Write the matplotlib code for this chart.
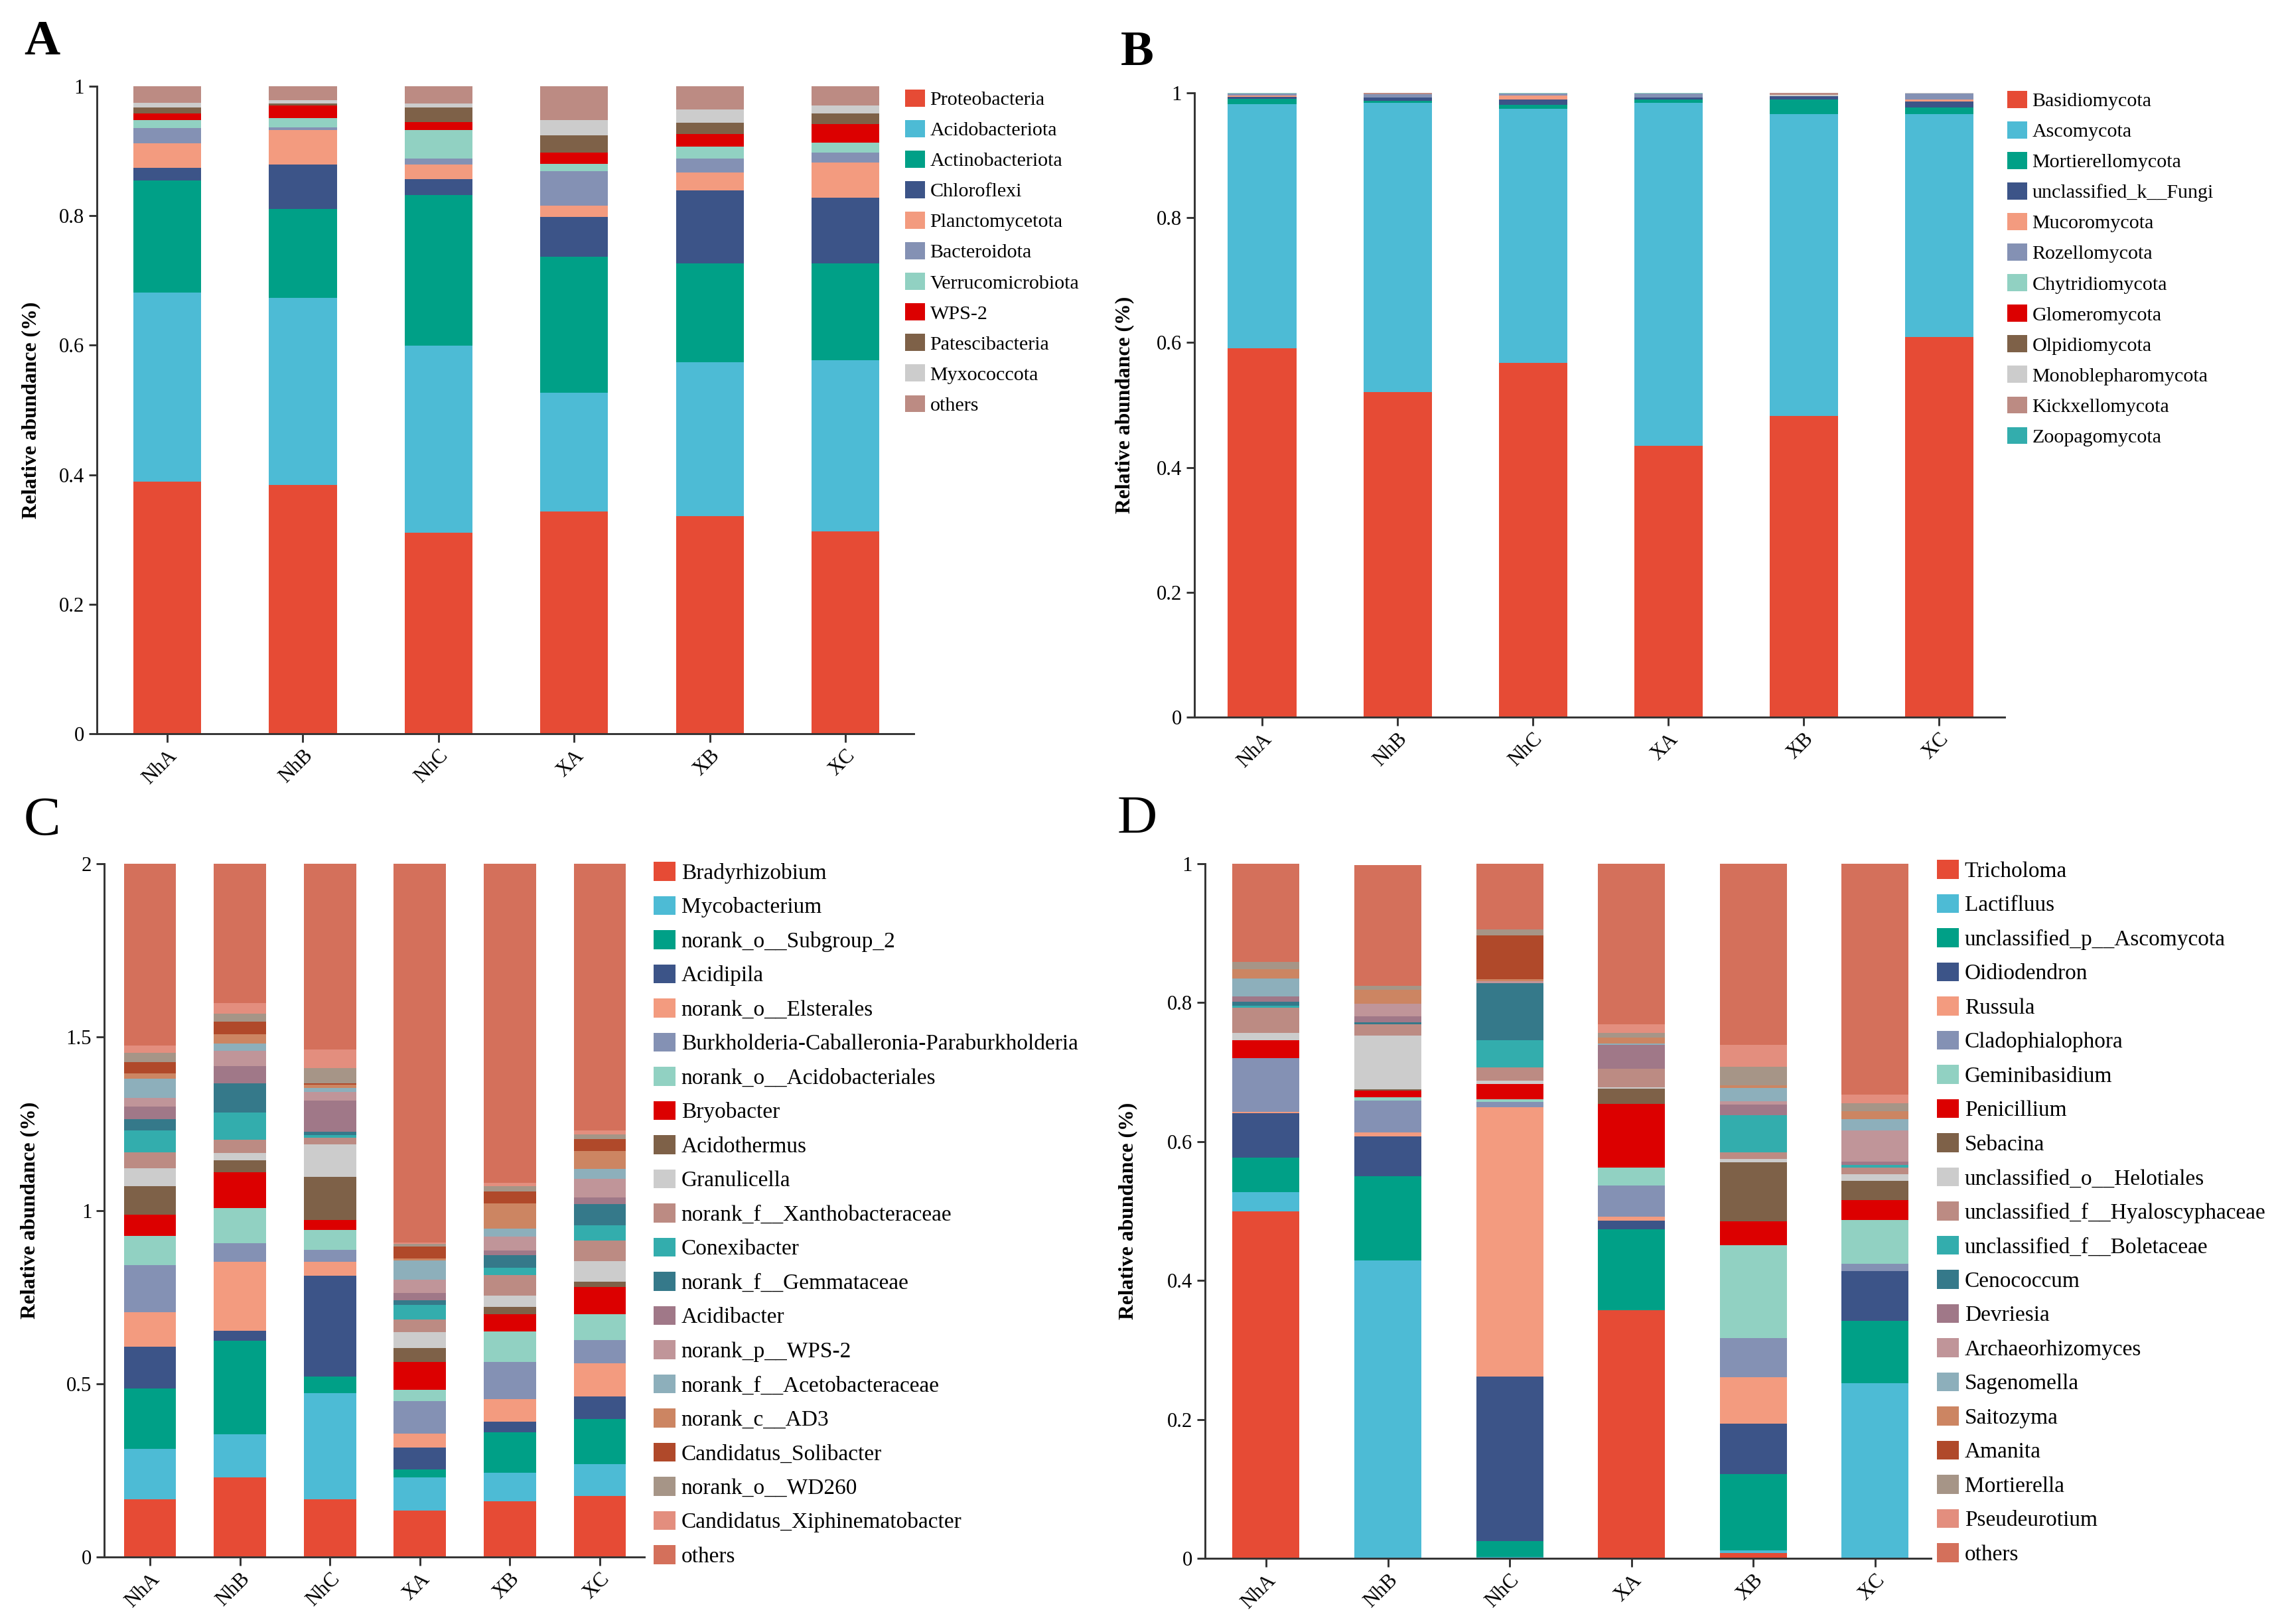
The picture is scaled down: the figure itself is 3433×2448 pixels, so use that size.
import numpy as np
import matplotlib.pyplot as plt
from matplotlib.patches import Patch

plt.rcParams['font.family'] = ['Liberation Serif', 'DejaVu Serif']

samples = ['NhA', 'NhB', 'NhC', 'XA', 'XB', 'XC']

palette = ['#E64B35', '#4DBBD5', '#00A087', '#3C5488', '#F39B7F', '#8491B4',
           '#91D1C2', '#DC0000', '#7E6148', '#CCCCCC', '#BC8B83', '#33ADAD',
           '#35798A', '#A07888', '#C09599', '#8DAFBB', '#CC8562', '#B0492A',
           '#A69587', '#E38E7E', '#D4705B']

# ---- A: bacterial phyla
bac_phyla = ['Proteobacteria', 'Acidobacteriota', 'Actinobacteriota', 'Chloroflexi',
             'Planctomycetota', 'Bacteroidota', 'Verrucomicrobiota', 'WPS-2',
             'Patescibacteria', 'Myxococcota', 'others']
a_NhA = [0.389, 0.292, 0.173, 0.020, 0.038, 0.023, 0.013, 0.010, 0.009, 0.007, 0.026]
a_NhB = [0.384, 0.289, 0.137, 0.069, 0.053, 0.004, 0.015, 0.019, 0.003, 0.005, 0.022]
a_NhC = [0.310, 0.289, 0.233, 0.025, 0.022, 0.009, 0.044, 0.013, 0.022, 0.006, 0.027]
a_XA = [0.343, 0.184, 0.210, 0.061, 0.018, 0.053, 0.011, 0.018, 0.026, 0.024, 0.052]
a_XB = [0.336, 0.238, 0.152, 0.113, 0.028, 0.021, 0.019, 0.019, 0.018, 0.020, 0.036]
a_XC = [0.313, 0.264, 0.149, 0.102, 0.054, 0.016, 0.015, 0.029, 0.016, 0.012, 0.030]

# ---- B: fungal phyla
fun_phyla = ['Basidiomycota', 'Ascomycota', 'Mortierellomycota', 'unclassified_k__Fungi',
             'Mucoromycota', 'Rozellomycota', 'Chytridiomycota', 'Glomeromycota',
             'Olpidiomycota', 'Monoblepharomycota', 'Kickxellomycota', 'Zoopagomycota']
b_NhA = [0.591, 0.391, 0.008, 0.0035, 0.0025, 0.003, 0.001, 0, 0, 0, 0, 0]
b_NhB = [0.521, 0.463, 0.003, 0.006, 0, 0.005, 0, 0, 0, 0, 0.002, 0]
b_NhC = [0.567, 0.4075, 0.006, 0.009, 0.006, 0.003, 0.0015, 0, 0, 0, 0, 0]
b_XA = [0.435, 0.549, 0.005, 0.0035, 0, 0.006, 0.0015, 0, 0, 0, 0, 0]
b_XB = [0.482, 0.484, 0.023, 0.006, 0, 0, 0, 0, 0, 0.002, 0.003, 0]
b_XC = [0.609, 0.357, 0.011, 0.009, 0.0035, 0.009, 0, 0, 0, 0.0015, 0, 0]

# ---- C: bacterial genera
bac_genera = ['Bradyrhizobium', 'Mycobacterium', 'norank_o__Subgroup_2', 'Acidipila',
              'norank_o__Elsterales', 'Burkholderia-Caballeronia-Paraburkholderia',
              'norank_o__Acidobacteriales', 'Bryobacter', 'Acidothermus', 'Granulicella',
              'norank_f__Xanthobacteraceae', 'Conexibacter', 'norank_f__Gemmataceae',
              'Acidibacter', 'norank_p__WPS-2', 'norank_f__Acetobacteraceae',
              'norank_c__AD3', 'Candidatus_Solibacter', 'norank_o__WD260',
              'Candidatus_Xiphinematobacter', 'others']
c_NhA = [0.167, 0.145, 0.175, 0.120, 0.100, 0.135, 0.085, 0.061, 0.082, 0.051, 0.046,
         0.064, 0.033, 0.036, 0.024, 0.055, 0.016, 0.032, 0.028, 0.021, 0.524]
c_NhB = [0.230, 0.124, 0.269, 0.030, 0.199, 0.053, 0.101, 0.104, 0.034, 0.021, 0.038,
         0.080, 0.084, 0.050, 0.043, 0.021, 0.027, 0.036, 0.024, 0.030, 0.402]
c_NhC = [0.167, 0.306, 0.047, 0.292, 0.040, 0.035, 0.057, 0.028, 0.124, 0.095, 0.019,
         0.008, 0.008, 0.090, 0.026, 0.012, 0.009, 0.004, 0.044, 0.053, 0.536]
c_XA = [0.134, 0.096, 0.022, 0.064, 0.040, 0.094, 0.033, 0.079, 0.041, 0.045, 0.038,
        0.042, 0.013, 0.020, 0.039, 0.055, 0.006, 0.034, 0.008, 0.004, 1.093]
c_XB = [0.160, 0.083, 0.117, 0.030, 0.065, 0.107, 0.089, 0.049, 0.022, 0.033, 0.058,
        0.021, 0.037, 0.014, 0.040, 0.022, 0.074, 0.033, 0.016, 0.010, 0.920]
c_XC = [0.176, 0.091, 0.132, 0.064, 0.096, 0.066, 0.075, 0.079, 0.016, 0.058, 0.060,
        0.044, 0.061, 0.020, 0.053, 0.028, 0.052, 0.034, 0.014, 0.012, 0.769]

# ---- D: fungal genera
fun_genera = ['Tricholoma', 'Lactifluus', 'unclassified_p__Ascomycota', 'Oidiodendron',
              'Russula', 'Cladophialophora', 'Geminibasidium', 'Penicillium', 'Sebacina',
              'unclassified_o__Helotiales', 'unclassified_f__Hyaloscyphaceae',
              'unclassified_f__Boletaceae', 'Cenococcum', 'Devriesia', 'Archaeorhizomyces',
              'Sagenomella', 'Saitozyma', 'Amanita', 'Mortierella', 'Pseudeurotium', 'others']
d_NhA = [0.500, 0.027, 0.050, 0.064, 0.002, 0.077, 0.0, 0.026, 0.0, 0.010, 0.037,
         0.003, 0.005, 0.008, 0.0, 0.026, 0.013, 0.0, 0.011, 0.0, 0.141]
d_NhB = [0.0, 0.429, 0.121, 0.057, 0.006, 0.046, 0.005, 0.009, 0.002, 0.078, 0.016,
         0.0, 0.003, 0.008, 0.018, 0.0, 0.021, 0.0, 0.005, 0.0, 0.174]
d_NhC = [0.0, 0.002, 0.023, 0.237, 0.387, 0.008, 0.004, 0.022, 0.0, 0.005, 0.019,
         0.039, 0.082, 0.0, 0.003, 0.0, 0.003, 0.063, 0.008, 0.0, 0.095]
d_XA = [0.357, 0.0, 0.117, 0.012, 0.006, 0.045, 0.026, 0.091, 0.022, 0.002, 0.027,
        0.0, 0.0, 0.034, 0.0, 0.002, 0.009, 0.0, 0.006, 0.013, 0.231]
d_XB = [0.008, 0.003, 0.110, 0.073, 0.067, 0.056, 0.134, 0.034, 0.085, 0.005, 0.010,
        0.053, 0.0, 0.015, 0.005, 0.019, 0.004, 0.0, 0.027, 0.031, 0.261]
d_XC = [0.0, 0.252, 0.090, 0.072, 0.0, 0.010, 0.063, 0.029, 0.027, 0.010, 0.010,
        0.003, 0.0, 0.005, 0.045, 0.016, 0.012, 0.0, 0.011, 0.013, 0.332]

W, H = 3433, 2448
fig = plt.figure(figsize=(W / 300, H / 300), dpi=300)


def box(l, r, t, b):
    return [l / W, 1 - b / H, (r - l) / W, (b - t) / H]


def panel(rect, taxa, cols, rows, width, xlim, ymax, yticks, ytl,
          leg_xy, leg_fs, ylab_x, letter, letter_xy, letter_fs, letter_w):
    ax = fig.add_axes(box(*rect))
    data = np.array(rows).T  # taxa x samples
    x = np.arange(len(samples))
    bottom = np.zeros(len(samples))
    for name, vals, c in zip(taxa, data, cols):
        ax.bar(x, vals, width, bottom=bottom, color=c, linewidth=0)
        bottom += vals
    ax.set_xlim(*xlim)
    ax.set_ylim(0, ymax)
    ax.set_yticks(yticks)
    ax.set_yticklabels(ytl)
    ax.set_xticks(x)
    ax.set_xticklabels(samples, rotation=45, ha='right', va='top',
                       rotation_mode='anchor')
    for s in ['top', 'right']:
        ax.spines[s].set_visible(False)
    for s in ['left', 'bottom']:
        ax.spines[s].set_linewidth(0.7)
        ax.spines[s].set_color('#333333')
    ax.tick_params(axis='both', length=3, width=0.7, color='#333333',
                   labelsize=7.4, pad=1.5)
    ax.set_ylabel('Relative abundance (%)', fontsize=7.6, fontweight='bold')
    ax.yaxis.set_label_coords(ylab_x, 0.5)
    handles = [Patch(facecolor=c, edgecolor='none') for c in cols]
    fig.legend(handles, taxa, loc='upper left',
               bbox_to_anchor=(leg_xy[0] / W, 1 - leg_xy[1] / H),
               frameon=False, fontsize=leg_fs, borderpad=0, borderaxespad=0,
               handlelength=1.0, handleheight=0.95, handletextpad=0.25,
               labelspacing=0.56)
    fig.text(letter_xy[0] / W, 1 - letter_xy[1] / H, letter, fontsize=letter_fs,
             fontweight=letter_w, ha='center', va='center')
    return ax


pal11 = palette[:10] + [palette[10]]
pal12 = palette[:12]

panel((146, 1377, 130, 1106), bac_phyla, pal11,
      [a_NhA, a_NhB, a_NhC, a_XA, a_XB, a_XC], 0.5, (-0.519, 5.504), 1,
      [0, 0.2, 0.4, 0.6, 0.8, 1], ['0', '0.2', '0.4', '0.6', '0.8', '1'],
      (1364, 135), 7.2, -0.069, 'A', (63, 64), 18, 'bold')

panel((1800, 3021, 140, 1081), fun_phyla, pal12,
      [b_NhA, b_NhB, b_NhC, b_XA, b_XB, b_XC], 0.505, (-0.5, 5.485), 1,
      [0, 0.2, 0.4, 0.6, 0.8, 1], ['0', '0.2', '0.4', '0.6', '0.8', '1'],
      (3025, 137), 7.2, -0.074, 'B', (1714, 80), 18, 'bold')

panel((157, 971, 1302, 2347), bac_genera, palette,
      [c_NhA, c_NhB, c_NhC, c_XA, c_XB, c_XC], 0.58, (-0.509, 5.494), 2,
      [0, 0.5, 1, 1.5, 2], ['0', '0.5', '1', '1.5', '2'],
      (985, 1299), 8, -0.120, 'C', (63, 1238), 20, 'normal')

panel((1816, 2910, 1302, 2349), fun_genera, palette,
      [d_NhA, d_NhB, d_NhC, d_XA, d_XB, d_XC], 0.55, (-0.501, 5.458), 1,
      [0, 0.2, 0.4, 0.6, 0.8, 1], ['0', '0.2', '0.4', '0.6', '0.8', '1'],
      (2919, 1296), 8, -0.093, 'D', (1714, 1236), 20, 'normal')

fig.savefig('out.png', dpi=300)
